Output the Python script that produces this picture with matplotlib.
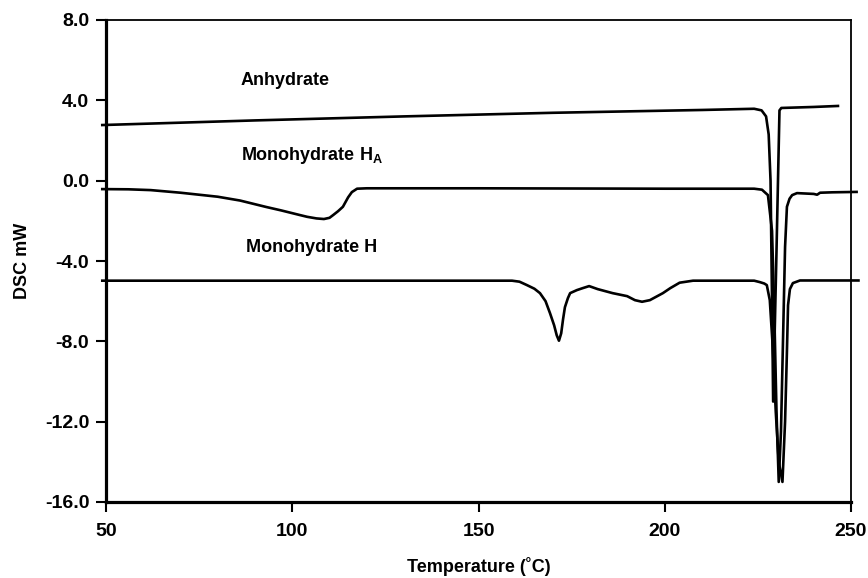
import matplotlib
matplotlib.use('Agg')
import matplotlib.pyplot as plt

plt.rcParams['font.family'] = ['Liberation Sans', 'DejaVu Sans']
plt.rcParams['font.weight'] = 'bold'
plt.rcParams['mathtext.fontset'] = 'custom'
plt.rcParams['mathtext.rm'] = 'Liberation Sans:bold'

# DSC traces: temperature (C) and heat flow (mW)
t_anh = [49, 90, 130, 170, 210, 224, 226, 227.2, 227.9, 228.4, 228.8, 229.1,
         230.0, 230.8, 231.3, 240, 246.5]
dsc_anh = [2.77, 3.0, 3.2, 3.38, 3.52, 3.58, 3.5, 3.2, 2.3, 0.0, -6.0, -11.0,
           -3.5, 3.5, 3.62, 3.67, 3.72]

t_ha = [49, 56, 62, 70, 80, 86, 93, 97, 102, 104, 106.5, 108.5, 110, 111,
        112.3, 113.6, 115, 116, 117.4, 120, 150, 200, 224, 226.1, 227.7, 228.8,
        229.4, 230.0, 230.6, 231.2, 231.8, 232.3, 232.8, 233.5, 234.2, 235.5,
        240, 240.9, 241.7, 245, 251.5]
dsc_ha = [-0.42, -0.43, -0.47, -0.6, -0.8, -0.99, -1.31, -1.48, -1.71, -1.8,
          -1.88, -1.91, -1.85, -1.71, -1.52, -1.3, -0.83, -0.57, -0.4, -0.38,
          -0.38, -0.4, -0.4, -0.45, -0.72, -2.5, -6.5, -11.5, -15.0, -12.5,
          -7.5, -3.3, -1.3, -0.9, -0.72, -0.62, -0.66, -0.7, -0.6, -0.58, -0.56]

t_h = [49, 100, 159, 161, 163, 165, 166.5, 168, 169.2, 170.3, 171, 171.6,
       172.2, 172.7, 173.2, 174, 174.6, 176.4, 178, 179.7, 182, 186, 189.9,
       192, 193.9, 196, 198, 199.5, 201.5, 204, 207.6, 215, 224, 225.5, 226.7,
       227.4, 228.2, 229, 229.8, 230.6, 231.6, 232.3, 232.8, 233.1, 233.6,
       234.4, 236.3, 244, 252]
dsc_h = [-4.98, -4.98, -4.98, -5.03, -5.2, -5.38, -5.6, -6.0, -6.6, -7.2, -7.7,
         -7.97, -7.6, -6.9, -6.3, -5.85, -5.6, -5.45, -5.35, -5.25, -5.4, -5.6,
         -5.75, -5.95, -6.03, -5.95, -5.75, -5.6, -5.35, -5.08, -4.98, -4.98,
         -4.98, -5.05, -5.12, -5.2, -5.95, -8.3, -11.5, -14.0, -15.0, -12.0,
         -8.5, -6.2, -5.4, -5.1, -4.97, -4.97, -4.97]

xticks = [50, 100, 150, 200, 250]
yticks = [-16, -12, -8, -4, 0, 4, 8]

fig = plt.figure(figsize=(8.68, 5.78), dpi=100)
ax = fig.add_axes([106/868, 76/578, 745/868, 482/578])

for t, d in [(t_anh, dsc_anh), (t_ha, dsc_ha), (t_h, dsc_h)]:
    ax.plot(t, d, color='black', lw=1.9, clip_on=False, zorder=3)

ax.text(86.2, 5.0, 'Anhydrate', fontsize=13, fontweight='bold', va='center')
ax.text(86.2, 1.23, 'Monohydrate H$_\\mathrm{A}$', fontsize=13,
        fontweight='bold', va='center')
ax.text(87.6, -3.35, 'Monohydrate H', fontsize=13, fontweight='bold',
        va='center')

ax.set_xlim(50, 250)
ax.set_ylim(-16, 8)
ax.set_xticks(xticks)
ax.set_yticks(yticks)
ax.set_yticklabels(['%.1f' % v for v in yticks])
ax.tick_params(direction='out', length=7, width=1.5, labelsize=14)
ax.tick_params(axis='x', pad=8)
ax.tick_params(axis='y', pad=5)
for lab in ax.get_xticklabels() + ax.get_yticklabels():
    lab.set_fontweight('bold')

ax.spines['left'].set_linewidth(2.3)
ax.spines['bottom'].set_linewidth(2.3)
ax.spines['top'].set_linewidth(1.3)
ax.spines['right'].set_linewidth(1.3)

ax.set_xlabel('Temperature (˚C)', fontsize=13, fontweight='bold', labelpad=12)
ax.set_ylabel('DSC mW', fontsize=13, fontweight='bold', labelpad=10)

fig.savefig('out.png', dpi=100)
